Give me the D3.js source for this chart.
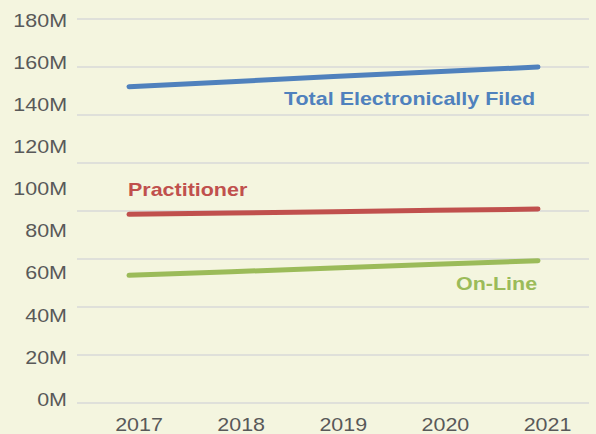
<!DOCTYPE html>
<html>
<head>
<meta charset="utf-8">
<script src="https://cdn.jsdelivr.net/npm/d3@7"></script>
<style>
  html, body { margin: 0; padding: 0; background: #f4f5df; }
  svg { display: block; font-family: "Liberation Sans", Arial, sans-serif; }
</style>
</head>
<body>
<svg id="chart"></svg>
<script>
const years = [2017, 2018, 2019, 2020, 2021];
const totalFiled = [131.8, 133.9, 136.0, 138.0, 140.0];
const practitioner = [78.6, 79.2, 79.7, 80.3, 80.8];
const onLine = [53.2, 54.7, 56.2, 57.8, 59.3];
const gridValues = [0, 20, 40, 60, 80, 100, 120, 140, 160];
const tickLabels = [0, 20, 40, 60, 80, 100, 120, 140, 160, 180];

const width = 596;
const height = 434;
const stretch = 1.16; // the source text is drawn wide

const series = [
  { name: "Total Electronically Filed", values: totalFiled, color: "#4f81bd", lx: 284, ly: 105 },
  { name: "Practitioner", values: practitioner, color: "#c0504d", lx: 128, ly: 196 },
  { name: "On-Line", values: onLine, color: "#9bbb59", lx: 456, ly: 290 }
];

const svg = d3.select("#chart").attr("width", width).attr("height", height);

svg.append("rect").attr("width", width).attr("height", height).attr("fill", "#f4f5df");

const x = d3.scalePoint().domain(years).range([129, 538]);
const y = d3.scaleLinear().domain([0, 160]).range([403, 19]);

// tick labels sit on their own spacing in the source picture
const xLabel = d3.scalePoint().domain(years).range([138.5, 547]);
const yLabel = d3.scaleLinear().domain([0, 180]).range([399.5, 20.2]);

function widen(sel) {
  sel.each(function () {
    const w = this.getComputedTextLength();
    d3.select(this).attr("textLength", w * stretch).attr("lengthAdjust", "spacingAndGlyphs");
  });
}

svg
  .append("g")
  .selectAll("line")
  .data(gridValues)
  .enter()
  .append("line")
  .attr("x1", 77)
  .attr("x2", 589)
  .attr("y1", (d) => y(d))
  .attr("y2", (d) => y(d))
  .attr("stroke", "#d9d9d9")
  .attr("stroke-width", 1.5);

const yAxis = d3.axisLeft(yLabel).tickValues(tickLabels).tickSize(0).tickPadding(0)
  .tickFormat((d) => d + "M");

svg
  .append("g")
  .attr("transform", "translate(67,0)")
  .call(yAxis)
  .call((g) => g.select(".domain").remove())
  .selectAll("text")
  .attr("fill", "#595959")
  .attr("font-size", 18.5)
  .attr("font-family", "Liberation Sans, Arial, sans-serif")
  .call(widen);

const xAxis = d3.axisBottom(xLabel).tickSize(0).tickPadding(0).tickFormat(d3.format("d"));

svg
  .append("g")
  .attr("transform", "translate(0,418)")
  .call(xAxis)
  .call((g) => g.select(".domain").remove())
  .selectAll("text")
  .attr("dy", "0.71em")
  .attr("fill", "#595959")
  .attr("font-size", 18.5)
  .attr("font-family", "Liberation Sans, Arial, sans-serif")
  .call(widen);

const line = d3
  .line()
  .x((d, i) => x(years[i]))
  .y((d) => y(d));

svg
  .selectAll(".series")
  .data(series)
  .enter()
  .append("path")
  .attr("class", "series")
  .attr("d", (d) => line(d.values))
  .attr("fill", "none")
  .attr("stroke", (d) => d.color)
  .attr("stroke-width", 5)
  .attr("stroke-linecap", "round");

svg
  .selectAll(".label")
  .data(series)
  .enter()
  .append("text")
  .attr("class", "label")
  .attr("x", (d) => d.lx)
  .attr("y", (d) => d.ly)
  .attr("fill", (d) => d.color)
  .attr("font-size", 18.5)
  .attr("font-weight", "bold")
  .text((d) => d.name)
  .call(widen);
</script>
</body>
</html>
